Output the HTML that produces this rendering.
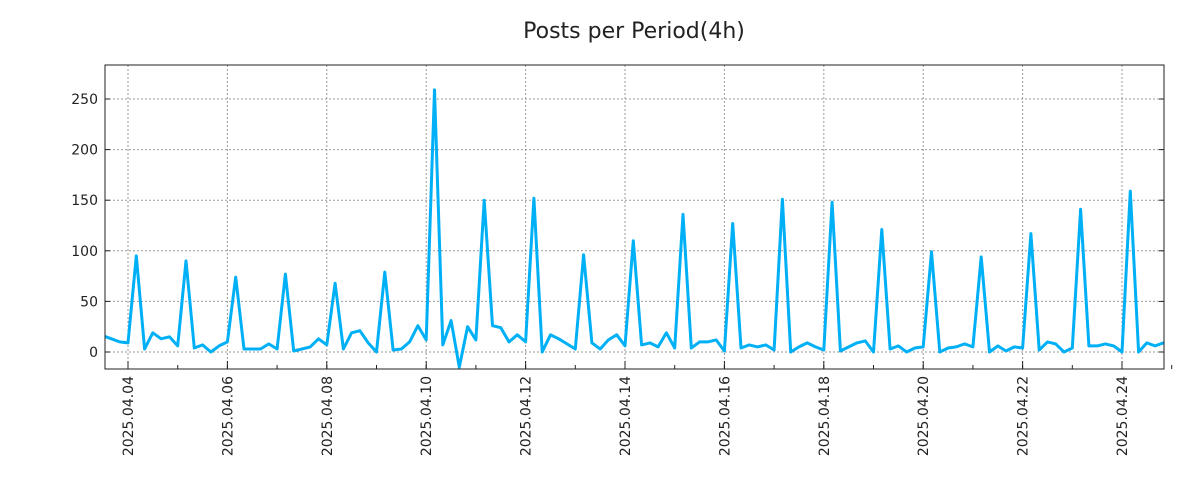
<!DOCTYPE html>
<html><head><meta charset="utf-8"><style>
body{margin:0;background:#fff;}
svg{display:block;font-family:"DejaVu Sans","Liberation Sans",sans-serif;}
</style></head><body>
<svg id="chart" width="1200" height="500">
<text x="634" y="38" text-anchor="middle" font-size="22" fill="#222">Posts per Period(4h)</text>
<g id="grid"></g>
<clipPath id="clip"><rect x="105" y="65" width="1059" height="304"/></clipPath>
<g id="series" clip-path="url(#clip)"></g>
<rect x="105" y="65" width="1059" height="304" fill="none" stroke="#222" stroke-width="1"/>
<g id="axes"></g>
</svg>
<script>
const startDay = -0.5; // 2025.04.03 12:00 relative to 04.04
const stepDay = 1/6;
const values = [16,13,10,
9,95,3,19,13,15,
6,90,4,7,0,6,
10,74,3,3,3,8,
3,77,1,3,5,13,
7,68,3,19,21,9,
0,79,2,3,10,26,
12,259,7,31,-15,25,
12,150,26,24,10,17,
10,152,0,17,13,8,
3,96,9,3,12,17,
6,110,7,9,5,19,
4,136,4,10,10,12,
1,127,4,7,5,7,
2,151,0,5,9,5,
2,148,1,5,9,11,
0,121,3,6,0,4,
5,99,0,4,5,8,
5,94,0,6,1,5,
4,117,2,10,8,0,
4,141,6,6,8,6,
0,159,0,9,6,9,
4];
const yTicks = [0,50,100,150,200,250];
const xTickLabels = ["2025.04.04","2025.04.06","2025.04.08","2025.04.10","2025.04.12","2025.04.14","2025.04.16","2025.04.18","2025.04.20","2025.04.22","2025.04.24"];
const xTickDays = [0,2,4,6,8,10,12,14,16,18,20];

const NS="http://www.w3.org/2000/svg";
function X(d){return 128 + d*49.7;}
function Y(v){return 352 - v*1.012;}
function mk(tag,attrs,parent){const e=document.createElementNS(NS,tag);for(const k in attrs)e.setAttribute(k,attrs[k]);parent.appendChild(e);return e;}
const grid=document.getElementById('grid'), axes=document.getElementById('axes'), series=document.getElementById('series');
yTicks.forEach(v=>{
  const l=mk('line',{x1:105,x2:1164,y1:Y(v),y2:Y(v),stroke:'#999','stroke-dasharray':'2,2'},grid);
  
  
  mk('line',{x1:105,x2:110,y1:Y(v),y2:Y(v),stroke:'#222'},axes);
  mk('line',{x1:1159,x2:1164,y1:Y(v),y2:Y(v),stroke:'#222'},axes);
  const t=mk('text',{x:98,y:Y(v)+5,'text-anchor':'end','font-size':14,fill:'#222'},axes);
  t.textContent=v;
  
  
});
for(let d=0;d<=21;d++){
  mk('line',{x1:X(d),x2:X(d),y1:369,y2:365,stroke:'#222'},axes);
}
xTickDays.forEach((d,i)=>{
  const l=mk('line',{x1:X(d),x2:X(d),y1:65,y2:369,stroke:'#999','stroke-dasharray':'2,2'},grid);
  
  
  mk('line',{x1:X(d),x2:X(d),y1:369,y2:361,stroke:'#222'},axes);
  const t=mk('text',{transform:`translate(${X(d)+5},376) rotate(-90)`,'text-anchor':'end','font-size':14,fill:'#222'},axes);
  t.textContent=xTickLabels[i];
  
  
});
const pts=values.map((v,i)=>X(startDay+i*stepDay).toFixed(1)+','+Y(v).toFixed(1)).join(' ');
const pl=mk('polyline',{points:pts,fill:'none',stroke:'#00b0f6','stroke-width':3,'stroke-linejoin':'round'},series);


</script>
</body></html>
